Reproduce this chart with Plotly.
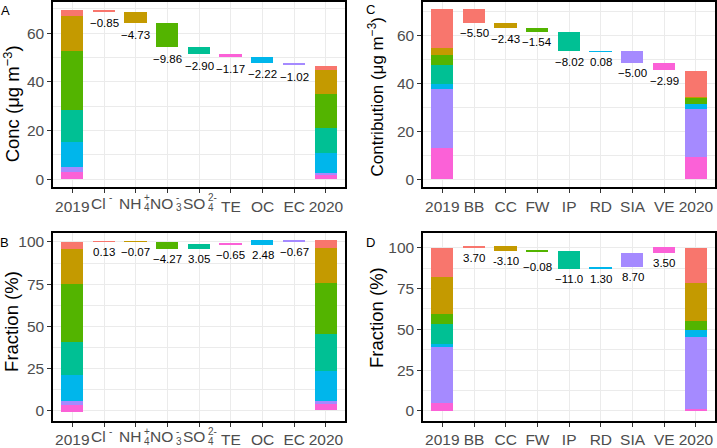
import plotly.graph_objects as go

W, H = 717, 448

# ---------------- data ----------------
# Panel A (concentration, ug m-3); species order: Cl, NH4, NO3, SO4, TE, OC, EC
# ion labels with stacked scripts: (main, subscript, superscript); plain text otherwise
A_ticks = ["2019", ("Cl", "", "-"), ("NH", "4", "+"), ("NO", "3", "-"), ("SO", "4", "2-"),
           "TE", "OC", "EC", "2020"]
A_colors = ["#F8766D", "#C49A00", "#53B400", "#00C094", "#FB61D7", "#00B6EB", "#A58AFF"]
A_stack = [4, 6, 5, 3, 2, 1, 0]          # bottom -> top (TE, EC, OC, SO4, NO3, NH4, Cl)
A_2019 = [2.6, 14.4, 24.1, 13.0, 2.8, 10.4, 2.3]
A_2020 = [2.0, 9.6, 14.0, 10.4, 2.0, 8.2, 0.5]
A_delta = [-0.85, -4.73, -9.86, -2.90, -1.17, -2.22, -1.02]
A_labels = ["\u22120.85", "\u22124.73", "\u22129.86", "\u22122.90", "\u22121.17", "\u22122.22", "\u22121.02"]

# Panel B (fraction, %)
B_2019 = [4.1, 20.9, 34.4, 19.4, 4.1, 15.4, 2.5]
B_2020 = [4.5, 20.8, 30.1, 22.3, 3.5, 17.7, 1.7]
B_base = [-0.8, 0.4]
B_start = 100.0
B_delta = [0.13, -0.07, -4.27, 3.05, -0.65, 2.48, -0.67]
B_labels = ["0.13", "\u22120.07", "\u22124.27", "3.05", "\u22120.65", "2.48", "\u22120.67"]

# Panel C (source contribution, ug m-3); sources: BB, CC, FW, IP, RD, SIA, VE
C_ticks = ["2019", "BB", "CC", "FW", "IP", "RD", "SIA", "VE", "2020"]
C_colors = ["#F8766D", "#C49A00", "#53B400", "#00C094", "#00B6EB", "#A58AFF", "#FB61D7"]
C_stack = [6, 5, 4, 3, 2, 1, 0]          # bottom -> top (VE ... BB)
C_2019 = [16.2, 2.7, 4.3, 8.0, 1.8, 24.9, 13.0]
C_2020 = [11.1, 0.3, 2.7, 0.0, 2.0, 19.8, 9.5]
C_delta = [-5.50, -2.43, -1.54, -8.02, 0.08, -5.00, -2.99]
C_labels = ["\u22125.50", "\u22122.43", "\u22121.54", "\u22128.02", "0.08", "\u22125.00", "\u22122.99"]

# Panel D (source fraction, %)
D_2019 = [18.3, 22.5, 6.1, 12.5, 1.4, 34.8, 4.4]
D_2020 = [21.5, 23.4, 6.0, 0.0, 4.0, 44.3, 0.8]
D_start = 100.0
D_delta = [1.0, -3.1, -0.08, -11.0, 1.3, 8.7, 3.5]
D_labels = ["3.70", "-3.10", "\u22120.08", "\u221211.0", "1.30", "8.70", "3.50"]

# ---------------- style ----------------
FONT = "Liberation Sans, Arial, sans-serif"
TICK_SIZE = 15.5
TICK_COLOR = "#4D4D4D"
ION_SHIFT = {"Cl": 3.5, "NH": 7.5, "NO": 7.5, "SO": 8.0}   # px offset of the stacked-script labels
D_LABEL_NUDGE = [0, 0, 6, 0, 0, 0, 0]                      # extra px offset of panel-D value labels

fig = go.Figure()

def px_x(p):
    return p / W

def px_y(p):
    return 1 - p / H

panels = {
    "A": dict(ax="", dom_x=(53.3, 345.0), dom_y=(2.0, 190.0), yr=[-3.2, 72.8], dtick=20, minor=10),
    "C": dict(ax="2", dom_x=(423.3, 715.0), dom_y=(2.0, 190.0), yr=[-3.2, 74.0], dtick=20, minor=10),
    "B": dict(ax="3", dom_x=(53.3, 345.0), dom_y=(237.0, 427.3), yr=[-5.8, 105.1], dtick=25, minor=12.5),
    "D": dict(ax="4", dom_x=(423.3, 715.0), dom_y=(237.0, 427.3), yr=[-6.0, 108.9], dtick=25, minor=12.5),
}

annotations = []

def add_panel(key, v2019, v2020, stack, colors, deltas, labels, start, bases=(0.0, 0.0),
              label_shift=10, nudges=None):
    ax = panels[key]["ax"]
    xa, ya = "x" + ax, "y" + ax
    # stacked 2019 / 2020 bars
    for pos, vals, b0 in ((0, v2019, bases[0]), (8, v2020, bases[1])):
        base = b0
        for i in stack:
            fig.add_trace(go.Bar(x=[pos], y=[vals[i]], base=[base], width=0.7,
                                 marker=dict(color=colors[i], line=dict(width=0)),
                                 xaxis=xa, yaxis=ya, showlegend=False, hoverinfo="skip"))
            base += vals[i]
    # waterfall steps
    level = start
    for k, d in enumerate(deltas):
        lo = min(level, level + d)
        fig.add_trace(go.Bar(x=[k + 1], y=[abs(d)], base=[lo], width=0.7,
                             marker=dict(color=colors[k], line=dict(width=0)),
                             xaxis=xa, yaxis=ya, showlegend=False, hoverinfo="skip"))
        extra = nudges[k] if nudges else 0
        annotations.append(dict(x=k + 1, y=lo, xref=xa, yref=ya, text=labels[k], showarrow=False,
                                xanchor="center", yanchor="middle", yshift=-(label_shift + extra),
                                font=dict(family=FONT, size=11.5, color="black")))
        level += d

add_panel("A", A_2019, A_2020, A_stack, A_colors, A_delta, A_labels, sum(A_2019), label_shift=11.5)
add_panel("B", B_2019, B_2020, A_stack, A_colors, B_delta, B_labels, B_start, bases=B_base, label_shift=10)
add_panel("C", C_2019, C_2020, C_stack, C_colors, C_delta, C_labels, sum(C_2019), label_shift=10.3)
add_panel("D", D_2019, D_2020, C_stack, C_colors, D_delta, D_labels, D_start, label_shift=10,
          nudges=D_LABEL_NUDGE)

layout = dict(width=W, height=H, margin=dict(l=0, r=0, t=0, b=0), paper_bgcolor="white",
              plot_bgcolor="white", barmode="overlay", showlegend=False, bargap=0)

def script_label(xa, tickpos, bottom_px, main, sub, sup):
    """Ion label with superscript stacked above subscript (as in the reference)."""
    cy = bottom_px + 16.5
    sh = ION_SHIFT[main]
    annotations.append(dict(x=tickpos, y=px_y(cy), xref=xa, yref="paper", text=main,
                            showarrow=False, xanchor="right", yanchor="middle", xshift=sh,
                            font=dict(family=FONT, size=TICK_SIZE, color=TICK_COLOR)))
    if sup:
        annotations.append(dict(x=tickpos, y=px_y(cy - 5.5), xref=xa, yref="paper", text=sup,
                                showarrow=False, xanchor="left", yanchor="middle", xshift=sh - 1,
                                font=dict(family=FONT, size=10, color=TICK_COLOR)))
    if sub:
        annotations.append(dict(x=tickpos, y=px_y(cy + 4.5), xref=xa, yref="paper", text=sub,
                                showarrow=False, xanchor="left", yanchor="middle", xshift=sh - 1,
                                font=dict(family=FONT, size=10, color=TICK_COLOR)))

for key, p in panels.items():
    ax = p["ax"]
    xa = "x" + ax
    ticks = A_ticks if key in ("A", "B") else C_ticks
    ticktext = []
    for i, t in enumerate(ticks):
        if isinstance(t, tuple):
            ticktext.append("")
            script_label(xa, i, p["dom_y"][1], *t)
        else:
            ticktext.append(t)
    layout["xaxis" + ax] = dict(
        domain=[px_x(p["dom_x"][0]), px_x(p["dom_x"][1])], anchor="y" + ax,
        range=[-0.6, 8.6], tickmode="array", tickvals=list(range(9)), ticktext=ticktext,
        tickangle=0,
        showgrid=True, gridcolor="#EBEBEB", gridwidth=1.2, zeroline=False,
        showline=True, linecolor="black", linewidth=2, mirror=True,
        ticks="outside", ticklen=4, tickwidth=1, tickcolor="#333333",
        tickfont=dict(family=FONT, size=TICK_SIZE, color=TICK_COLOR), fixedrange=True)
    layout["yaxis" + ax] = dict(
        domain=[px_y(p["dom_y"][1]), px_y(p["dom_y"][0])], anchor="x" + ax,
        range=p["yr"], tickmode="linear", tick0=0, dtick=p["dtick"],
        showgrid=True, gridcolor="#EBEBEB", gridwidth=1.2, zeroline=False,
        minor=dict(dtick=p["minor"], tick0=0, showgrid=True, gridcolor="#EBEBEB", gridwidth=0.6, ticks=""),
        showline=True, linecolor="black", linewidth=2, mirror=True,
        ticks="outside", ticklen=4, tickwidth=1, tickcolor="#333333",
        tickfont=dict(family=FONT, size=TICK_SIZE, color=TICK_COLOR), fixedrange=True)

# axis titles
titles = [
    ("Conc (\u03bcg m<sup>\u22123</sup>)", 12, 106, 18.5),
    ("Contribution (\u03bcg m<sup>\u22123</sup>)", 376, 99, 17),
    ("Fraction (%)", 12, 327, 18.5),
    ("Fraction (%)", 377, 323, 18.5),
]
for text, xp, yp, fs in titles:
    annotations.append(dict(x=px_x(xp), y=px_y(yp), xref="paper", yref="paper", text=text,
                            textangle=-90, showarrow=False, xanchor="center", yanchor="middle",
                            font=dict(family=FONT, size=fs, color="black")))

# panel letters
for text, xp, yp in (("A", 6, 11), ("C", 370, 10), ("B", 4, 246), ("D", 370, 246)):
    annotations.append(dict(x=px_x(xp), y=px_y(yp), xref="paper", yref="paper", text=text,
                            showarrow=False, xanchor="center", yanchor="middle",
                            font=dict(family=FONT, size=13, color="black")))

layout["annotations"] = annotations
fig.update_layout(**layout)
fig.write_html("out.html", config={"displayModeBar": False},
               post_script="document.body.style.margin='0';document.body.style.overflow='hidden';")
